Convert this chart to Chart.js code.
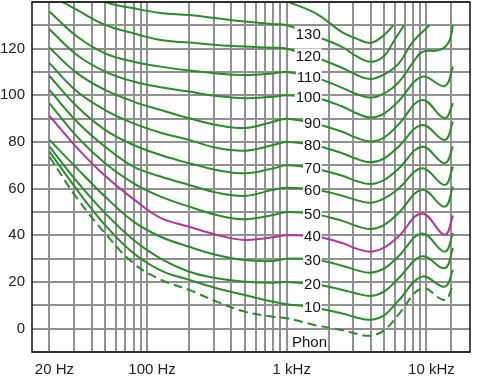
<!DOCTYPE html>
<html>
<head>
<meta charset="utf-8">
<script src="https://cdn.jsdelivr.net/npm/chart.js@4.4.0/dist/chart.umd.min.js"></script>
<style>
  html, body { margin: 0; padding: 0; background: #fff; }
  #chart { display: block; }
</style>
</head>
<body>
<canvas id="chart" width="482" height="384"></canvas>
<script>
// frequencies (Hz) shared by every contour, null = no point for that curve
const freqs = [20, 31.5, 50, 80, 125, 200, 315, 500, 800, 1000, 1600, 2500, 3150, 4000,
               5000, 5800, 6300, 6900, 8000, 9300, 10500, 12500, 13500, 14500, 15500];

// sound pressure level in dB
const n = null;
const phon140 = [n, n, n, n, n, n, n, 146, 142, 140.2, 135.2, 127, 124.3, 122.5, 126, 130, n, n, n, n, n, n, n, n, n];
const phon130 = [n, 146, 140, 137.3, 135.3, 134.4, 133, 131.6, 130.5, 130, 125.4, 120.7, 116.8, 114.4, 117, 123, n, 130, n, n, n, n, n, n, n];
const phon120 = [143, 136.6, 130.2, 126.6, 123.7, 122.6, 121.6, 120.9, 120.4, 120, 116.3, 111.7, 108.8, 107, 109, n, 113.5, n, 123, n, 130, n, n, n, n];
const phon110 = [135.9, 125.2, 118, 114.4, 112.3, 110.6, 109.4, 108.7, 109.4, 110, 107.6, 103.2, 100.6, 99, 100.8, n, 105.5, n, 114, 118.5, n, 119.5, n, 123, 130];
const phon100 = [128.3, 117.3, 110.2, 105.9, 103.5, 101.6, 99.7, 98.8, 99.4, 100, 99, 95.2, 92.3, 90.5, 92.3, n, 97.5, n, n, 108, n, n, 104, n, 112.3];
const phon90  = [120.4, 109.5, 102.3, 97.3, 93.7, 90.2, 87.3, 86, 88.7, 90, 87.8, 84.4, 81.8, 80.2, 82, n, 87.5, n, n, 98, n, n, 90.2, n, 96.6];
const phon80  = [113.8, 101.6, 93.7, 88, 84, 80.9, 77.5, 76.3, 78.7, 80, 78.5, 75.2, 72.8, 71.3, 73, n, 78, n, n, 87.3, n, n, 80.9, n, 88.7];
const phon70  = [108.3, 95.2, 85.2, 78.7, 74.4, 70.9, 68, 66.6, 68.7, 70, 68.5, 65.5, 63.3, 62, 63.8, n, 68.5, n, n, 78, n, n, 70.9, n, 78];
const phon60  = [102.3, 88.7, 78, 69.4, 65.2, 61.6, 58.3, 56.9, 59.5, 60.4, 59.5, 57, 55.1, 54, 55.8, n, 60, n, n, 68.7, n, n, 61.6, n, 69.4];
const phon50  = [96.6, 82.3, 70.9, 62.3, 56.6, 52.3, 48.7, 46.9, 48.7, 50, 49, 46.2, 44, 42.7, 44.5, n, 49.5, n, n, 59.5, n, n, 52.3, n, 60.9];
const phon40  = [91.2, 77.5, 65.5, 55.5, 47.5, 43.7, 40.2, 38, 39.2, 40, 39.5, 36.7, 34.3, 33, 34.8, n, 39.5, n, n, 49.4, n, n, 40.2, n, 48.5];
const phon30  = [80.9, 68.7, 56.6, 45.9, 39.4, 35.1, 31.6, 29.4, 29, 30, 29.5, 27, 25.1, 24, 25.8, n, 31, n, n, 40.8, n, n, 33, n, 41];
const phon20  = [78, 63, 49.5, 38, 30, 24.4, 21.6, 20.1, 19.7, 20, 19, 16.6, 15.1, 14, 16, n, 21.5, n, n, 31, n, n, 25.9, n, 34.5];
const phon10  = [75.9, 59.5, 44.4, 32.3, 25, 20.9, 17.3, 14.4, 11.5, 10.5, 9, 6.5, 4.8, 3.8, 5.8, n, 12, n, n, 22.3, n, n, 18, n, 25.2];
const threshold = [73.7, 55.9, 40.9, 28, 21, 16.6, 11.6, 7.3, 5.1, 4.5, 1.5, -0.6, -2.2, -3, -0.6, n, 6, n, n, 17.3, n, n, 12.3, n, 18.5];

// axis ticks
const xGridValues = [20, 30, 40, 50, 60, 70, 80, 90, 100, 200, 300, 400, 500, 600, 700, 800, 900,
                     1000, 2000, 3000, 4000, 5000, 6000, 7000, 8000, 9000, 10000, 15000];
const xLabelValues = [20, 100, 1000, 10000];
const xLabelTexts = ['20 Hz', '100 Hz', '1 kHz', '10 kHz'];
const yLabelValues = [0, 20, 40, 60, 80, 100, 120];

const GREEN = '#2b8c2b';
const MAGENTA = '#b5359c';
const FONT = '"Liberation Sans", Arial, sans-serif';

const series = [
    { label: '',    data: phon140 },
    { label: '130', data: phon130 },
    { label: '120', data: phon120 },
    { label: '110', data: phon110 },
    { label: '100', data: phon100 },
    { label: '90',  data: phon90 },
    { label: '80',  data: phon80 },
    { label: '70',  data: phon70 },
    { label: '60',  data: phon60 },
    { label: '50',  data: phon50 },
    { label: '40',  data: phon40, color: MAGENTA },
    { label: '30',  data: phon30 },
    { label: '20',  data: phon20 },
    { label: '10',  data: phon10 },
    { label: '',    data: threshold, dashed: true },
];

// level of a curve at frequency f (log-linear between known points)
function valueAt(data, f) {
    let prev = null;
    for (let i = 0; i < freqs.length; i++) {
        if (data[i] == null) continue;
        if (freqs[i] >= f) {
            if (prev == null) return data[i];
            const t = Math.log(f / freqs[prev]) / Math.log(freqs[i] / freqs[prev]);
            return data[prev] + t * (data[i] - data[prev]);
        }
        prev = i;
    }
    return data[prev];
}

const curveLabels = {
    id: 'curveLabels',
    afterDatasetsDraw(chart) {
        const { ctx, scales: { x, y } } = chart;
        ctx.save();
        ctx.font = '15px ' + FONT;
        ctx.textBaseline = 'middle';
        ctx.textAlign = 'right';
        const right = x.getPixelForValue(1750);
        series.forEach(s => {
            if (!s.label) return;
            const py = y.getPixelForValue(valueAt(s.data, 1450));
            const w = ctx.measureText(s.label).width;
            ctx.fillStyle = '#fff';
            ctx.fillRect(right - w - 1, py - 7, w + 2, 14);
            ctx.fillStyle = '#111';
            ctx.fillText(s.label, right, py + 1);
        });
        ctx.textAlign = 'left';
        ctx.fillText('Phon', x.getPixelForValue(1090), y.getPixelForValue(-6));
        ctx.restore();
    },
    afterDraw(chart) {
        const { ctx, chartArea: a } = chart;
        ctx.save();
        ctx.strokeStyle = '#111';
        ctx.lineWidth = 1.5;
        ctx.strokeRect(a.left, a.top, a.right - a.left, a.bottom - a.top);
        ctx.restore();
    }
};

new Chart(document.getElementById('chart').getContext('2d'), {
    type: 'line',
    data: {
        labels: freqs,
        datasets: series.map(s => ({
            data: s.data.map((v, i) => ({ x: freqs[i], y: v })),
            borderColor: s.color || GREEN,
            borderWidth: 2,
            borderDash: s.dashed ? [9, 5] : [],
            pointRadius: 0,
            fill: false,
            spanGaps: true,
            tension: 0.4,
        })),
    },
    options: {
        responsive: false,
        animation: false,
        events: [],
        layout: { padding: { top: 2, right: 12, left: 0, bottom: 0 } },
        plugins: { legend: { display: false }, tooltip: { enabled: false } },
        scales: {
            x: {
                type: 'logarithmic',
                min: 15,
                max: 20500,
                afterBuildTicks: axis => { axis.ticks = xGridValues.map(v => ({ value: v })); },
                afterFit: axis => { axis.height = 32; axis.paddingLeft = 0; axis.paddingRight = 0; },
                grid: { color: 'rgb(145,145,145)', lineWidth: 2, drawTicks: false },
                border: { display: false },
                ticks: {
                    autoSkip: false,
                    maxRotation: 0,
                    padding: 9,
                    labelOffset: 5,
                    color: '#222',
                    font: { family: FONT, size: 15 },
                    callback: v => {
                        const i = xLabelValues.indexOf(v);
                        return i >= 0 ? xLabelTexts[i] : '';
                    },
                },
            },
            y: {
                min: -10,
                max: 140,
                afterFit: axis => { axis.width = 32; axis.paddingTop = 0; axis.paddingBottom = 0; },
                grid: { color: 'rgb(145,145,145)', lineWidth: 2, drawTicks: false },
                border: { display: false },
                ticks: {
                    stepSize: 10,
                    padding: 7,
                    color: '#222',
                    font: { family: FONT, size: 15 },
                    callback: v => yLabelValues.includes(v) ? String(v) : '',
                },
            },
        },
    },
    plugins: [curveLabels],
});
</script>
</body>
</html>
